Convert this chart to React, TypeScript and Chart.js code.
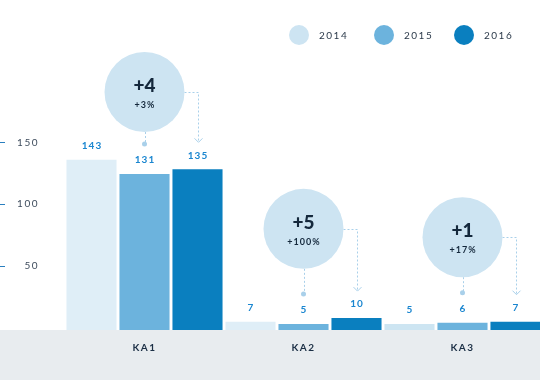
import React, { useEffect, useRef } from "react";
import { Chart, registerables } from "chart.js";

Chart.register(...registerables);

const CATEGORIES = ["KA1", "KA2", "KA3"];
const SERIES_LABELS = ["2014", "2015", "2016"];
const VALUES_2014 = [143, 7, 5];
const VALUES_2015 = [131, 5, 6];
const VALUES_2016 = [135, 10, 7];
const Y_TICKS = [50, 100, 150];
const BUBBLE_LEVEL = [200, 85, 78];

const LEGEND_COLORS = ["#cde4f2", "#6cb3dd", "#0a7fbf"];
const COLORS_2014 = ["#dfeef7", "#dfeef7", "#cde5f2"];

const FONT = "Lato, 'Open Sans', sans-serif";
const LEGEND_ITEM_X = [289, 374, 454];

const decorPlugin = {
  id: "decor",
  beforeDraw(chart: any) {
    const { ctx, chartArea, width, height } = chart;
    ctx.save();
    ctx.fillStyle = "#e8ecef";
    ctx.fillRect(0, chartArea.bottom, width, height - chartArea.bottom);
    ctx.restore();
    ctx.letterSpacing = "1.5px";
  },
  afterDatasetsDraw(chart: any) {
    const { ctx } = chart;
    const yScale = chart.scales.y;
    const bScale = chart.scales.yb;

    // y tick marks at far left
    ctx.save();
    ctx.strokeStyle = "#2a7fbf";
    ctx.lineWidth = 1;
    Y_TICKS.forEach((v) => {
      const py = Math.round(yScale.getPixelForValue(v)) + 0.5;
      ctx.beginPath();
      ctx.moveTo(0, py);
      ctx.lineTo(5, py);
      ctx.stroke();
    });
    ctx.restore();

    // value labels
    ctx.save();
    ctx.letterSpacing = "1px";
    ctx.font = `bold 10px ${FONT}`;
    ctx.fillStyle = "#1a86d0";
    ctx.textAlign = "center";
    ctx.textBaseline = "middle";
    chart.data.datasets.forEach((ds: any, di: number) => {
      const meta = chart.getDatasetMeta(di);
      meta.data.forEach((bar: any, i: number) => {
        ctx.fillText(String(ds.data[i]), bar.x + 0.5, bar.y - 14);
      });
    });
    ctx.restore();

    // bubbles
    const m15 = chart.getDatasetMeta(1);
    const m16 = chart.getDatasetMeta(2);
    const R = 40;
    CATEGORIES.forEach((_, i) => {
      const b15 = m15.data[i];
      const b16 = m16.data[i];
      const cx = b15.x;
      const cy = bScale.getPixelForValue(BUBBLE_LEVEL[i]);
      const dotY = b15.y - 30;
      const arrowX = Math.round(b16.x) + 0.5;
      const tipY = b16.y - 27;

      ctx.save();
      ctx.strokeStyle = "#a9d0ea";
      ctx.lineWidth = 1;
      ctx.setLineDash([2, 2]);
      ctx.beginPath();
      ctx.moveTo(Math.round(cx) + 0.5, cy + R);
      ctx.lineTo(Math.round(cx) + 0.5, dotY);
      ctx.stroke();
      ctx.beginPath();
      ctx.moveTo(cx + R, Math.round(cy) + 0.5);
      ctx.lineTo(arrowX, Math.round(cy) + 0.5);
      ctx.lineTo(arrowX, tipY);
      ctx.stroke();
      ctx.setLineDash([]);
      ctx.beginPath();
      ctx.moveTo(arrowX - 4, tipY - 4);
      ctx.lineTo(arrowX, tipY);
      ctx.lineTo(arrowX + 4, tipY - 4);
      ctx.stroke();
      ctx.fillStyle = "#a9d0ea";
      ctx.beginPath();
      ctx.arc(cx, dotY, 2.5, 0, Math.PI * 2);
      ctx.fill();

      ctx.fillStyle = "#cde4f2";
      ctx.beginPath();
      ctx.arc(cx, cy, R, 0, Math.PI * 2);
      ctx.fill();

      const diff = VALUES_2016[i] - VALUES_2015[i];
      const pct = Math.round((diff / VALUES_2015[i]) * 100);
      ctx.fillStyle = "#14283c";
      ctx.textAlign = "center";
      ctx.textBaseline = "middle";
      ctx.letterSpacing = "0px";
      ctx.font = `900 19px ${FONT}`;
      ctx.fillText((diff >= 0 ? "+" : "") + diff, cx, cy - 6);
      ctx.letterSpacing = "1px";
      ctx.font = `bold 9px ${FONT}`;
      ctx.fillText((pct >= 0 ? "+" : "") + pct + "%", cx + 0.5, cy + 13);
      ctx.restore();
    });

    // legend
    ctx.save();
    ctx.font = `10px ${FONT}`;
    ctx.letterSpacing = "1.5px";
    ctx.textAlign = "left";
    ctx.textBaseline = "middle";
    const ly = 35;
    SERIES_LABELS.forEach((lab, i) => {
      const x = LEGEND_ITEM_X[i];
      ctx.fillStyle = LEGEND_COLORS[i];
      ctx.beginPath();
      ctx.arc(x + 10, ly, 10, 0, Math.PI * 2);
      ctx.fill();
      ctx.fillStyle = "#2b3a4a";
      ctx.fillText(lab, x + 30, ly + 0.5);
    });
    ctx.restore();
  },
};

export default function App() {
  const ref = useRef<HTMLCanvasElement | null>(null);

  useEffect(() => {
    if (!ref.current) return;
    const chart = new Chart(ref.current, {
      type: "bar",
      data: {
        labels: CATEGORIES,
        datasets: [
          { label: SERIES_LABELS[0], data: VALUES_2014, backgroundColor: COLORS_2014, yAxisID: "yb" },
          { label: SERIES_LABELS[1], data: VALUES_2015, backgroundColor: LEGEND_COLORS[1], yAxisID: "yb" },
          { label: SERIES_LABELS[2], data: VALUES_2016, backgroundColor: LEGEND_COLORS[2], yAxisID: "yb" },
        ],
      },
      options: {
        animation: false,
        responsive: false,
        devicePixelRatio: 1,
        layout: { padding: { top: 52, left: 0, right: 0, bottom: 0 } },
        datasets: { bar: { categoryPercentage: 1, barPercentage: 0.945 } },
        plugins: { legend: { display: false }, tooltip: { enabled: false } },
        scales: {
          x: {
            grid: { display: false },
            border: { display: false },
            ticks: {
              padding: 4,
              color: "#1b2f45",
              font: { family: FONT, size: 10, weight: "bold" },
            },
            afterFit: (s: any) => {
              s.height = 50;
            },
          },
          y: {
            position: "left",
            min: -1.7,
            max: 223,
            grid: { display: false, drawTicks: false },
            border: { display: false },
            afterBuildTicks: (s: any) => {
              s.ticks = Y_TICKS.map((v) => ({ value: v }));
            },
            ticks: {
              padding: 26,
              color: "#3d4b5c",
              font: { family: FONT, size: 10 },
            },
            afterFit: (s: any) => {
              s.width = 65;
            },
          },
          yb: {
            display: false,
            min: 0,
            max: 233.6,
          },
        },
      },
      plugins: [decorPlugin],
    } as any);
    return () => chart.destroy();
  }, []);

  return (
    <div style={{ position: "fixed", left: 0, top: 0, width: 540, height: 380, overflow: "hidden", background: "#fff" }}>
      <canvas ref={ref} width={542} height={380} style={{ display: "block" }} />
    </div>
  );
}
